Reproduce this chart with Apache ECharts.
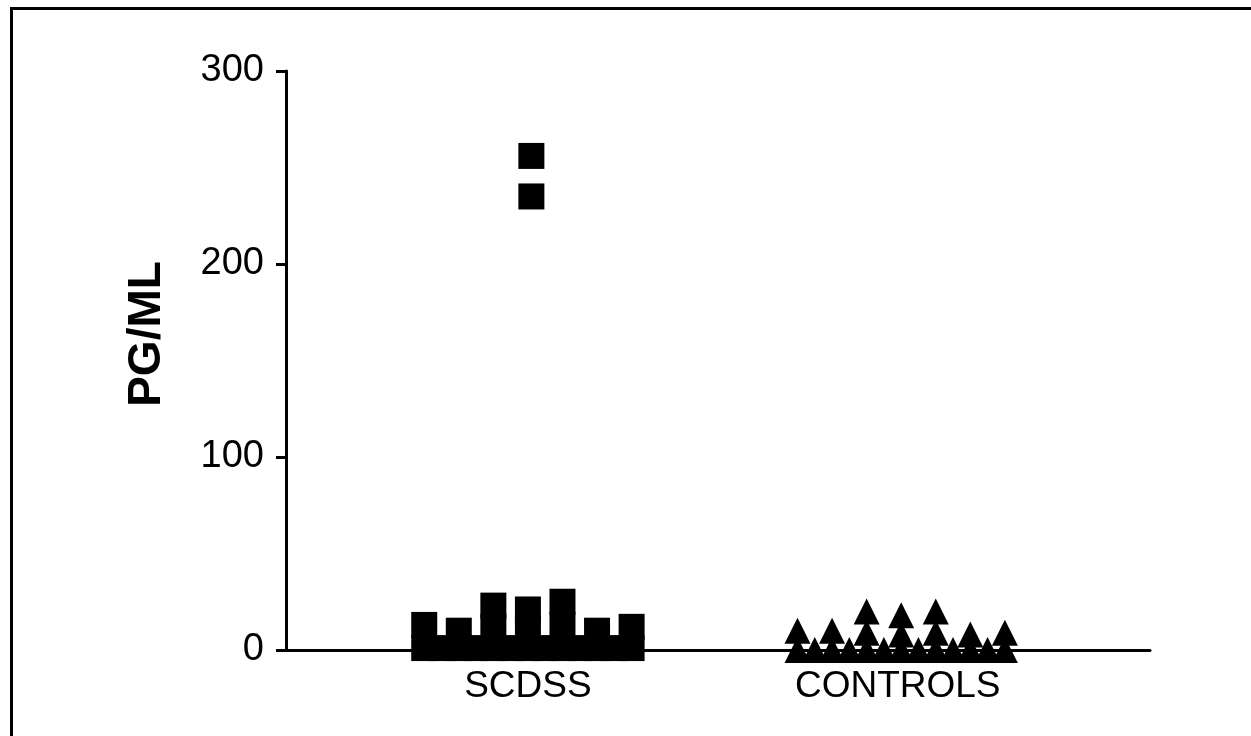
<!DOCTYPE html>
<html>
<head>
<meta charset="utf-8">
<script src="https://cdn.jsdelivr.net/npm/echarts@6/dist/echarts.min.js"></script>
<style>
  html, body { margin: 0; padding: 0; background: #fff; }
  #chart { width: 1251px; height: 736px; }
  #frame {
    position: absolute; left: 10px; top: 7px; right: 0; bottom: 0;
    border-left: 3px solid #000; border-top: 3px solid #000;
    pointer-events: none;
  }
</style>
</head>
<body>
<div id="chart"></div>
<div id="frame"></div>
<script>
// groups and where their labels sit on the x slot axis
const groups = ['SCDSS', 'CONTROLS'];
const groupSlot = [7, 17.8];
const labelSlot = [7, 17.7];
const yTicks = [0, 100, 200, 300];

// column offsets inside a group (points are spread side by side)
const rowOffset = [-3, -2, -1, 0, 1, 2, 3];
const stackOffset = [-1, 0, 1];
const baseOffset = [-3, -2.5, -2, -1.5, -1, -0.5, 0, 0.5, 1, 1.5, 2, 2.5, 3];

// SCDSS (pg/ml)
const scdssHighOffset = [0.1, 0.1];
const scdssHigh = [256, 235];
const scdssRow = [13, 10, 23, 21, 25, 10, 12];
const scdssStack = [12, 11, 13];
const scdssBase = [1, 1, 1, 1, 1, 1, 1, 1, 1, 1, 1, 1, 1];

// CONTROLS (pg/ml)
const controlsRow = [10, 10, 20, 18, 20, 8, 9];
const controlsStack = [9, 8, 9];
const controlsBase = [0, 0, 0, 0, 0, 0, 0, 0, 0, 0, 0, 0, 0];

const pts = (center, offs, vals) => vals.map((v, i) => [center + offs[i], v]);

const scdssData = [].concat(
  pts(groupSlot[0], baseOffset, scdssBase),
  pts(groupSlot[0], stackOffset, scdssStack),
  pts(groupSlot[0], rowOffset, scdssRow),
  pts(groupSlot[0], scdssHighOffset, scdssHigh)
);
const controlsData = [].concat(
  pts(groupSlot[1], baseOffset, controlsBase),
  pts(groupSlot[1], stackOffset, controlsStack),
  pts(groupSlot[1], rowOffset, controlsRow)
);

const chart = echarts.init(document.getElementById('chart'), null, {renderer: 'canvas'});
const font = '"Liberation Sans", Arial, Helvetica, sans-serif';

chart.setOption({
  animation: false,
  backgroundColor: '#fff',
  grid: {left: 286, right: 101, top: 71, bottom: 86, containLabel: false},
  xAxis: {
    type: 'value',
    min: 0,
    max: 25,
    axisLine: {show: true, onZero: false, lineStyle: {color: '#000', width: 3}},
    axisTick: {show: false},
    splitLine: {show: false},
    axisLabel: {
      customValues: labelSlot,
      margin: 18,
      color: '#000',
      fontFamily: font,
      fontSize: 37,
      formatter: v => {
        const i = labelSlot.findIndex(s => Math.abs(s - v) < 0.01);
        return i >= 0 ? groups[i] : '';
      }
    }
  },
  yAxis: {
    type: 'value',
    min: yTicks[0],
    max: yTicks[yTicks.length - 1],
    interval: 100,
    axisLine: {show: true, lineStyle: {color: '#000', width: 3}},
    axisTick: {show: true, length: 10, lineStyle: {color: '#000', width: 3}},
    splitLine: {show: false},
    axisLabel: {color: '#000', fontFamily: font, fontSize: 38, margin: 22}
  },
  graphic: [{
    type: 'text',
    x: 147,
    y: 334,
    rotation: Math.PI / 2,
    style: {
      text: 'PG/ML',
      fill: '#000',
      font: 'bold 46px ' + font,
      textAlign: 'center',
      textVerticalAlign: 'middle'
    }
  }],
  series: [
    {
      name: groups[0],
      type: 'scatter',
      symbol: 'rect',
      symbolSize: 26,
      z: 5,
      itemStyle: {color: '#000', opacity: 1},
      data: scdssData
    },
    {
      name: groups[1],
      type: 'scatter',
      symbol: 'triangle',
      symbolSize: 26,
      z: 5,
      itemStyle: {color: '#000', opacity: 1},
      data: controlsData
    }
  ]
});
</script>
</body>
</html>
